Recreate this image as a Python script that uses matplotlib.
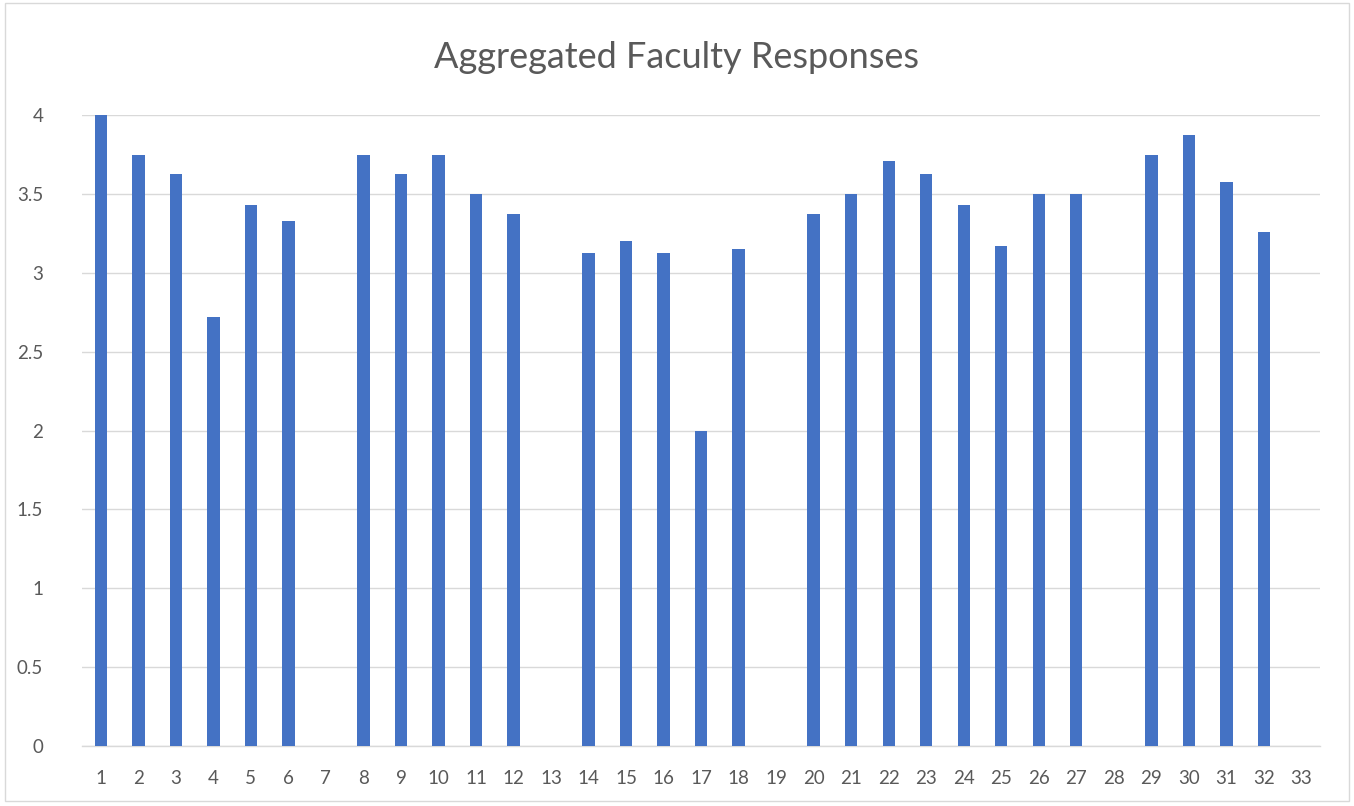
import numpy as np
import matplotlib
matplotlib.use("Agg")
import matplotlib.pyplot as plt
from matplotlib.patches import Rectangle

# question numbers and mean scores (blank = no response)
questions = [str(i) for i in range(1, 34)]
scores = [4.0, 3.75, 3.625, 2.72, 3.43, 3.33, np.nan,
          3.75, 3.625, 3.75, 3.5, 3.375, np.nan,
          3.125, 3.2, 3.125, 2.0, 3.15, np.nan,
          3.375, 3.5, 3.71, 3.625, 3.43, 3.17, 3.5, 3.5, np.nan,
          3.75, 3.875, 3.575, 3.26, np.nan]
yticks = [0, 0.5, 1, 1.5, 2, 2.5, 3, 3.5, 4]

plt.rcParams['font.family'] = ['Lato', 'DejaVu Sans']
text_color = '#595959'

fig = plt.figure(figsize=(13.54, 8.06), dpi=100)
ax = fig.add_axes([0.0606, 0.0744, 0.9144, 0.7826])

x = np.arange(len(questions))
ax.bar(x, scores, width=0.33, color='#4472C4', zorder=3)

ax.set_xlim(-0.5, len(questions) - 0.5)
ax.set_ylim(0, 4)
ax.set_xticks(x)
ax.set_xticklabels(questions)
ax.set_yticks(yticks)
ax.set_yticklabels([f"{t:g}" for t in yticks])
ax.tick_params(axis='both', length=0, labelsize=13.5, colors=text_color)
ax.tick_params(axis='x', pad=17)
ax.tick_params(axis='y', pad=28)

ax.grid(axis='y', color='#D9D9D9', linewidth=1, zorder=0)
for side in ['top', 'right', 'left']:
    ax.spines[side].set_visible(False)
ax.spines['bottom'].set_color('#D9D9D9')
ax.spines['bottom'].set_linewidth(1)

fig.text(0.5, 0.929, "Aggregated Faculty Responses", ha='center', va='center',
         fontsize=26, color=text_color)

# chart border
fig.patches.append(Rectangle((0.004, 0.006), 0.992, 0.99, transform=fig.transFigure,
                             fill=False, edgecolor='#D9D9D9', linewidth=1))

fig.savefig("out.png", dpi=100)
